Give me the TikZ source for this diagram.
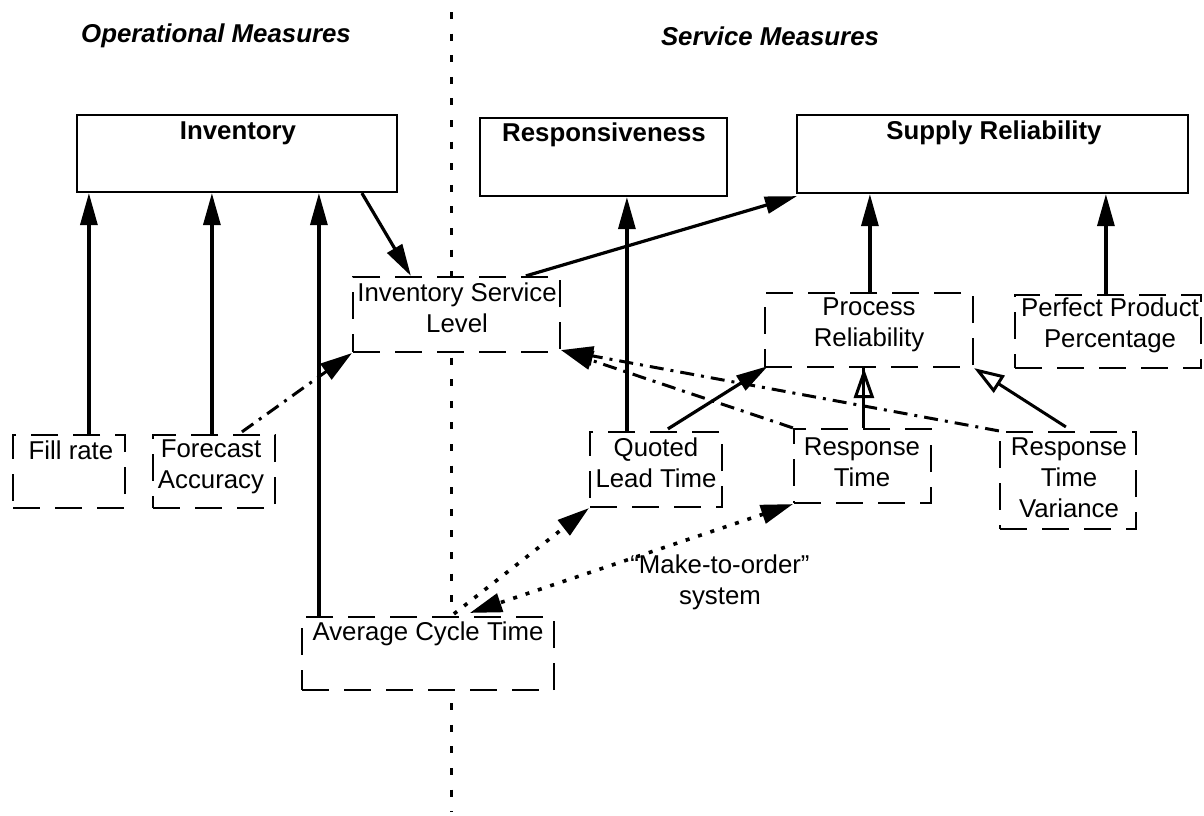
\documentclass[tikz,border=0pt]{standalone}
\usepackage{fontspec}
\setmainfont{Liberation Sans}
\usetikzlibrary{arrows.meta,fit,calc}
\begin{document}
\begin{tikzpicture}[x=0.5pt,y=-0.5pt,
  txt/.style={font=\fontsize{12.9}{15.5}\selectfont, align=center, inner sep=0pt},
  boldtxt/.style={font=\fontsize{12.9}{15.5}\selectfont\bfseries, inner sep=0pt},
  titletxt/.style={font=\fontsize{12.9}{15.5}\selectfont\bfseries\itshape, inner sep=0pt},
  solidbox/.style={draw, line width=1.1pt, inner sep=0pt, fill=white},
  dbox/.style={draw, line width=1.1pt, dash pattern=on 13.5pt off 7.5pt, inner sep=0pt, fill=white},
  arr/.style={line width=1.6pt, -{Triangle[length=16pt,width=8.5pt]}},
  oarr/.style={line width=1.5pt, -{Triangle[open,length=15pt,width=10pt,line width=1.5pt]}},
  ddline/.style={line width=1.5pt, dash pattern=on 7pt off 3.5pt on 1.5pt off 3.5pt},
  dotline/.style={line width=1.8pt, dash pattern=on 2pt off 4.5pt},
  divider/.style={line width=1.5pt, dash pattern=on 3.5pt off 7.3pt},
  headend/.style={-{Triangle[length=16pt,width=9.5pt]}},
  headboth/.style={{Triangle[length=16pt,width=9.5pt]}-{Triangle[length=16pt,width=9.5pt]}},
]
\useasboundingbox (0,0) rectangle (1204,815);

% divider
\coordinate (dtop) at (451,12);
\coordinate (dbot) at (451,812);
\draw[divider] (dtop) -- (dbot);

% titles
\node[titletxt] (opt) at (216,36) {Operational Measures};
\node[titletxt] (svt) at (770,36) {Service Measures};

% boxes
\node[solidbox, fit={(77,115) (397,192)}] (inv) {};
\node[solidbox, fit={(480,118) (727,196)}] (resp) {};
\node[solidbox, fit={(797,115) (1188,193)}] (supp) {};
\node[dbox, fit={(353,277) (560,352)}] (isl) {};
\node[dbox, fit={(765,293) (973,367)}] (proc) {};
\node[dbox, fit={(1015,295) (1201,368)}] (perf) {};
\node[dbox, fit={(13,435) (125,508)}] (fill) {};
\node[dbox, fit={(153,435) (275,508)}] (fore) {};
\node[dbox, fit={(590,432) (722,507)}] (quot) {};
\node[dbox, fit={(794,429) (931,503)}] (rt) {};
\node[dbox, fit={(1000,432) (1136,529)}] (rtv) {};
\node[dbox, fit={(302,617) (554,690)}] (act) {};

% texts
\node[boldtxt] (invt) at (238,133) {Inventory};
\node[boldtxt] (respt) at (604,135) {Responsiveness};
\node[boldtxt] (suppt) at (994,133) {Supply Reliability};
\node[txt] (islt) at (457,308) {Inventory Service\\Level};
\node[txt] (proct) at (869,325) {Process\\Reliability};
\node[txt] (perft) at (1110,325) {Perfect Product\\Percentage};
\node[txt] (fillt) at (71,450) {Fill rate};
\node[txt] (foret) at (211,467) {Forecast\\Accuracy};
\node[txt] (quott) at (656,463) {Quoted\\Lead Time};
\node[txt] (rtt) at (862,462) {Response\\Time};
\node[txt] (rtvt) at (1069,478) {Response\\Time\\Variance};
\node[txt] (actt) at (428,634) {Average Cycle Time};
\node[txt] (mto) at (720,582) {“Make-to-order”\\system};

% arrows into Inventory
\coordinate (a1) at ($(fill.north west)+(77,0)$);
\draw[arr] (a1) -- (a1 |- inv.south);
\coordinate (a2) at ($(fore.north west)+(60,0)$);
\draw[arr] (a2) -- (a2 |- inv.south);
\coordinate (a3) at ($(act.north west)+(18,0)$);
\draw[arr] (a3) -- (a3 |- inv.south);

% Inventory -> ISL
\coordinate (b1) at ($(inv.south west)+(286,0)$);
\coordinate (b2) at ($(isl.north west)+(59,0)$);
\draw[arr] (b1) -- (b2);

% ISL -> Supply
\coordinate (c1) at ($(isl.north west)+(174,0)$);
\coordinate (c2) at ($(supp.south west)+(1,2)$);
\draw[arr] (c1) -- (c2);

% Quoted -> Responsiveness
\coordinate (d1) at ($(quot.north west)+(38,0)$);
\draw[arr] (d1) -- (d1 |- resp.south);

% Process / Perfect -> Supply
\coordinate (e1) at ($(proc.north west)+(106,0)$);
\draw[arr] (e1) -- (e1 |- supp.south);
\coordinate (e2) at ($(perf.north west)+(92,0)$);
\draw[arr] (e2) -- (e2 |- supp.south);

% Quoted -> Process
\coordinate (f1) at ($(quot.north west)+(79,-2)$);
\coordinate (f2) at ($(proc.south west)+(4,-2)$);
\draw[arr] (f1) -- (f2);

% Response Time -> Process (open head, line through)
\coordinate (g1) at ($(rt.north west)+(71,0)$);
\coordinate (g2) at (g1 |- proc.south);
\draw[oarr] (g1) -- (g2);
\draw[line width=1.5pt] (g1) -- (g2);

% Variance -> Process (open head)
\coordinate (h1) at ($(rtv.north west)+(67,-4)$);
\draw[oarr] (h1) -- (proc.south east);

% Forecast -> ISL (dash-dot)
\coordinate (k1) at ($(fore.north west)+(90,-2)$);
\draw[ddline, headend] (k1) -- (isl.south west);

% Response Time / Variance -> ISL (dash-dot)
\coordinate (n1) at ($(isl.south east)+(0,-3)$);
\draw[ddline, headend] (rt.north west) -- (n1);
\draw[ddline, headend] (rtv.north west) -- (n1);

% dotted arrows
\coordinate (m1) at ($(act.north west)+(153,-2)$);
\draw[dotline, headend] (m1) -- (quot.south west);
\coordinate (m2) at ($(act.north west)+(169,-3)$);
\draw[dotline, headboth] (rt.south west) -- (m2);
\end{tikzpicture}
\end{document}
